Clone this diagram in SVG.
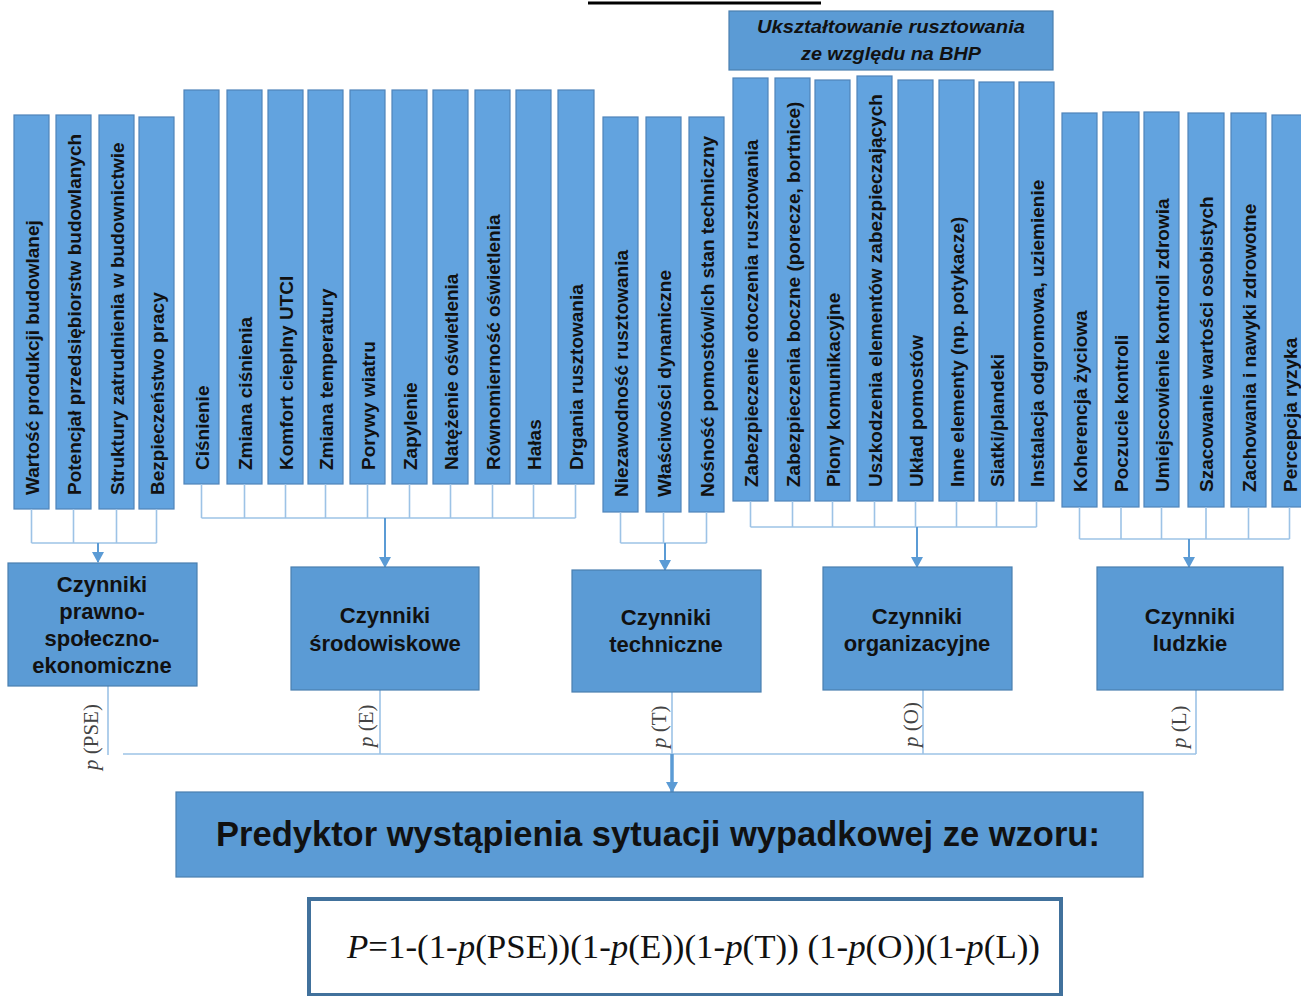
<svg xmlns="http://www.w3.org/2000/svg" width="1301" height="996" viewBox="0 0 1301 996">
<style>
.bar{fill:#62a3df;stroke:#4f84ba;stroke-width:1.2}
.bt{font-family:"Liberation Sans",Arial,sans-serif;font-weight:bold;font-size:19px;fill:#111}
.box{fill:#5b9bd5;stroke:#4a7fb0;stroke-width:1.2}
.xt{font-family:"Liberation Sans",Arial,sans-serif;font-weight:bold;font-size:22px;fill:#111;text-anchor:middle}
.thin{stroke:#9dc3e6;stroke-width:1.6;fill:none}
.arr{stroke:#5b9bd5;stroke-width:2;fill:none}
.pl{font-family:"Liberation Serif","Times New Roman",serif;font-size:21px;fill:#444}
</style>
<defs>
<marker id="ah" markerUnits="userSpaceOnUse" markerWidth="12" markerHeight="12" refX="10" refY="6" orient="auto" viewBox="0 0 12 12">
<path d="M0,0 L11,6 L0,12 Z" fill="#5b9bd5"/>
</marker>
</defs>
<rect width="1301" height="996" fill="#ffffff"/>
<rect x="588" y="1.5" width="233" height="3" fill="#000"/>

<g id="header">
<rect class="box" x="729" y="11" width="324" height="59"/>
<text x="891" y="33" font-family="'Liberation Sans',Arial,sans-serif" font-weight="bold" font-style="italic" font-size="18" fill="#111" text-anchor="middle" textLength="268" lengthAdjust="spacingAndGlyphs">Ukształtowanie rusztowania</text>
<text x="891" y="60" font-family="'Liberation Sans',Arial,sans-serif" font-weight="bold" font-style="italic" font-size="18" fill="#111" text-anchor="middle" textLength="180" lengthAdjust="spacingAndGlyphs">ze względu na BHP</text>
</g>

<g id="bars-pse">
<g id="b1"><rect class="bar" x="14" y="115" width="35" height="394"/><text class="bt" transform="translate(39,495) rotate(-90)">Wartość  produkcji budowlanej</text></g>
<g id="b2"><rect class="bar" x="56" y="115" width="35" height="394"/><text class="bt" transform="translate(81,495) rotate(-90)">Potencjał przedsiębiorstw budowlanych</text></g>
<g id="b3"><rect class="bar" x="99" y="115" width="35" height="394"/><text class="bt" transform="translate(124,495) rotate(-90)">Struktury zatrudnienia w budownictwie</text></g>
<g id="b4"><rect class="bar" x="139" y="117" width="35" height="392"/><text class="bt" transform="translate(164,495) rotate(-90)">Bezpieczeństwo pracy</text></g>
</g>

<g id="bars-e">
<g id="b5"><rect class="bar" x="184" y="90" width="35" height="394"/><text class="bt" transform="translate(209,470) rotate(-90)">Ciśnienie</text></g>
<g id="b6"><rect class="bar" x="227" y="90" width="35" height="394"/><text class="bt" transform="translate(252,470) rotate(-90)">Zmiana ciśnienia</text></g>
<g id="b7"><rect class="bar" x="268" y="90" width="35" height="394"/><text class="bt" transform="translate(293,470) rotate(-90)">Komfort cieplny UTCI</text></g>
<g id="b8"><rect class="bar" x="308" y="90" width="35" height="394"/><text class="bt" transform="translate(333,470) rotate(-90)">Zmiana temperatury</text></g>
<g id="b9"><rect class="bar" x="350" y="90" width="35" height="394"/><text class="bt" transform="translate(375,470) rotate(-90)">Porywy wiatru</text></g>
<g id="b10"><rect class="bar" x="392" y="90" width="35" height="394"/><text class="bt" transform="translate(417,470) rotate(-90)">Zapylenie</text></g>
<g id="b11"><rect class="bar" x="433" y="90" width="35" height="394"/><text class="bt" transform="translate(458,470) rotate(-90)">Natężenie oświetlenia</text></g>
<g id="b12"><rect class="bar" x="475" y="90" width="35" height="394"/><text class="bt" transform="translate(500,470) rotate(-90)">Równomierność oświetlenia</text></g>
<g id="b13"><rect class="bar" x="516" y="90" width="35" height="394"/><text class="bt" transform="translate(541,470) rotate(-90)">Hałas</text></g>
<g id="b14"><rect class="bar" x="558" y="90" width="36" height="394"/><text class="bt" transform="translate(583,470) rotate(-90)">Drgania rusztowania</text></g>
</g>

<g id="bars-t">
<g id="b15"><rect class="bar" x="603" y="117" width="35" height="395"/><text class="bt" transform="translate(628,497) rotate(-90)">Niezawodność rusztowania</text></g>
<g id="b16"><rect class="bar" x="646" y="117" width="35" height="395"/><text class="bt" transform="translate(671,497) rotate(-90)">Właściwości dynamiczne</text></g>
<g id="b17"><rect class="bar" x="689" y="117" width="35" height="395"/><text class="bt" transform="translate(714,497) rotate(-90)">Nośność  pomostów/ich stan techniczny</text></g>
</g>

<g id="bars-o">
<g id="b18"><rect class="bar" x="733" y="78" width="35" height="423"/><text class="bt" transform="translate(758,487) rotate(-90)">Zabezpieczenie otoczenia rusztowania</text></g>
<g id="b19"><rect class="bar" x="775" y="78" width="35" height="423"/><text class="bt" transform="translate(800,487) rotate(-90)">Zabezpieczenia boczne (porecze, bortnice)</text></g>
<g id="b20"><rect class="bar" x="815" y="80" width="35" height="421"/><text class="bt" transform="translate(840,487) rotate(-90)">Piony komunikacyjne</text></g>
<g id="b21"><rect class="bar" x="857" y="76" width="35" height="425"/><text class="bt" transform="translate(882,487) rotate(-90)">Uszkodzenia elementów zabezpieczających</text></g>
<g id="b22"><rect class="bar" x="898" y="80" width="35" height="421"/><text class="bt" transform="translate(923,487) rotate(-90)">Układ pomostów</text></g>
<g id="b23"><rect class="bar" x="939" y="80" width="35" height="421"/><text class="bt" transform="translate(964,487) rotate(-90)">Inne elementy (np. potykacze)</text></g>
<g id="b24"><rect class="bar" x="979" y="82" width="35" height="419"/><text class="bt" transform="translate(1004,487) rotate(-90)">Siatki/plandeki</text></g>
<g id="b25"><rect class="bar" x="1019" y="82" width="35" height="419"/><text class="bt" transform="translate(1044,487) rotate(-90)">Instalacja odgromowa, uziemienie</text></g>
</g>

<g id="bars-l">
<g id="b26"><rect class="bar" x="1062" y="113" width="35" height="394"/><text class="bt" transform="translate(1087,492) rotate(-90)">Koherencja życiowa</text></g>
<g id="b27"><rect class="bar" x="1103" y="112" width="36" height="395"/><text class="bt" transform="translate(1128,492) rotate(-90)">Poczucie kontroli</text></g>
<g id="b28"><rect class="bar" x="1144" y="112" width="35" height="395"/><text class="bt" transform="translate(1169,492) rotate(-90)">Umiejscowienie kontroli zdrowia</text></g>
<g id="b29"><rect class="bar" x="1188" y="113" width="36" height="394"/><text class="bt" transform="translate(1213,492) rotate(-90)">Szacowanie wartości osobistych</text></g>
<g id="b30"><rect class="bar" x="1231" y="113" width="35" height="394"/><text class="bt" transform="translate(1256,492) rotate(-90)">Zachowania i nawyki zdrowotne</text></g>
<g id="b31"><rect class="bar" x="1272" y="115" width="35" height="392"/><text class="bt" transform="translate(1297,492) rotate(-90)">Percepcja ryzyka</text></g>
</g>

<g id="connectors">
<path class="thin" d="M31.5,509 V543 M73.5,509 V543 M116.5,509 V543 M156.5,509 V543 M31.5,543 H156.5"/>
<path class="thin" d="M201.5,484 V518 M244.5,484 V518 M285.5,484 V518 M325.5,484 V518 M367.5,484 V518 M409.5,484 V518 M450.5,484 V518 M492.5,484 V518 M533.5,484 V518 M575.5,484 V518 M201.5,518 H575.5"/>
<path class="thin" d="M620.5,512 V543 M663.5,512 V543 M706.5,512 V543 M620.5,543 H706.5"/>
<path class="thin" d="M750.5,501 V527 M792.5,501 V527 M832.5,501 V527 M874.5,501 V527 M915.5,501 V527 M956.5,501 V527 M996.5,501 V527 M1036.5,501 V527 M750.5,527 H1036.5"/>
<path class="thin" d="M1079.5,507 V539 M1121,507 V539 M1161.5,507 V539 M1206,507 V539 M1248.5,507 V539 M1289.5,507 V539 M1079.5,539 H1289.5"/>
<line class="arr" x1="98" y1="543" x2="98" y2="562" marker-end="url(#ah)"/>
<line class="arr" x1="385" y1="518" x2="385" y2="567" marker-end="url(#ah)"/>
<line class="arr" x1="665" y1="543" x2="665" y2="570" marker-end="url(#ah)"/>
<line class="arr" x1="917" y1="527" x2="917" y2="567" marker-end="url(#ah)"/>
<line class="arr" x1="1189" y1="539" x2="1189" y2="567" marker-end="url(#ah)"/>
<path class="thin" d="M108,686 V755 M380,690 V754 M672,692 V754 M923,690 V754 M1196,690 V754 M123,754 H1196"/>
<line x1="672" y1="754" x2="672" y2="792" stroke="#5b9bd5" stroke-width="3.5" marker-end="url(#ah)"/>
<text class="pl" transform="translate(98,770) rotate(-90)"><tspan font-style="italic">p</tspan> (PSE)</text>
<text class="pl" transform="translate(373,747) rotate(-90)"><tspan font-style="italic">p</tspan> (E)</text>
<text class="pl" transform="translate(666,748) rotate(-90)"><tspan font-style="italic">p</tspan> (T)</text>
<text class="pl" transform="translate(918,747) rotate(-90)"><tspan font-style="italic">p</tspan> (O)</text>
<text class="pl" transform="translate(1186,748) rotate(-90)"><tspan font-style="italic">p</tspan> (L)</text>
</g>

<g id="pse">
<rect class="box" x="8" y="563" width="189" height="123"/>
<text class="xt" x="102" y="592">Czynniki</text>
<text class="xt" x="102" y="619">prawno-</text>
<text class="xt" x="102" y="646">społeczno-</text>
<text class="xt" x="102" y="673">ekonomiczne</text>
</g>
<g id="e">
<rect class="box" x="291" y="567" width="188" height="123"/>
<text class="xt" x="385" y="623">Czynniki</text>
<text class="xt" x="385" y="651">środowiskowe</text>
</g>
<g id="t">
<rect class="box" x="572" y="570" width="189" height="122"/>
<text class="xt" x="666" y="625">Czynniki</text>
<text class="xt" x="666" y="652">techniczne</text>
</g>
<g id="o">
<rect class="box" x="823" y="567" width="189" height="123"/>
<text class="xt" x="917" y="624">Czynniki</text>
<text class="xt" x="917" y="651">organizacyjne</text>
</g>
<g id="l">
<rect class="box" x="1097" y="567" width="186" height="123"/>
<text class="xt" x="1190" y="624">Czynniki</text>
<text class="xt" x="1190" y="651">ludzkie</text>
</g>

<g id="predyktor">
<rect class="box" x="176" y="792" width="967" height="85"/>
<text x="658" y="846" font-family="'Liberation Sans',Arial,sans-serif" font-weight="bold" font-size="34.5" fill="#111" text-anchor="middle">Predyktor wystąpienia sytuacji wypadkowej ze wzoru:</text>
</g>

<g id="formula">
<rect x="309" y="899" width="752" height="96" fill="#fff" stroke="#41719c" stroke-width="4"/>
<text x="347" y="958" font-family="'Liberation Serif','Times New Roman',serif" font-size="34" fill="#111" textLength="693" lengthAdjust="spacingAndGlyphs"><tspan font-style="italic">P</tspan>=1-(1-<tspan font-style="italic">p</tspan>(PSE))(1-<tspan font-style="italic">p</tspan>(E))(1-<tspan font-style="italic">p</tspan>(T)) (1-<tspan font-style="italic">p</tspan>(O))(1-<tspan font-style="italic">p</tspan>(L))</text>
</g>
</svg>
